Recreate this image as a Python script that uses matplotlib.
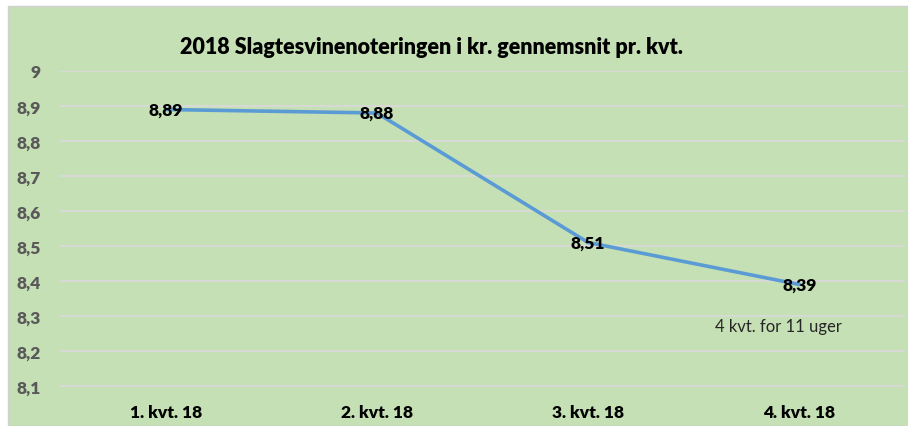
import matplotlib
matplotlib.use("Agg")
import matplotlib.pyplot as plt
from matplotlib.patches import Rectangle

# data
quarters = ["1. kvt. 18", "2. kvt. 18", "3. kvt. 18", "4. kvt. 18"]
prices = [8.89, 8.88, 8.51, 8.39]
y_ticks = [8.1, 8.2, 8.3, 8.4, 8.5, 8.6, 8.7, 8.8, 8.9, 9.0]
y_tick_labels = ["8,1", "8,2", "8,3", "8,4", "8,5", "8,6", "8,7", "8,8", "8,9", "9"]
note = "4 kvt. for 11 uger"
title = "2018 Slagtesvinenoteringen i kr. gennemsnit pr. kvt."

W, H = 908, 427
FONT = "Lato"
WEIGHT = "heavy"
fig = plt.figure(figsize=(W / 100, H / 100), dpi=100)
fig.patch.set_facecolor("white")

# green chart area
bg = Rectangle((8 / W, 0), 1 - 8 / W, 1 - 7 / H, transform=fig.transFigure,
               facecolor="#C5E0B4", edgecolor="#D0D0D0", linewidth=1, zorder=-5)
fig.patches.append(bg)

ax = fig.add_axes([60 / W, (H - 401) / H, (905 - 60) / W, (401 - 72) / H])
ax.patch.set_alpha(0)
for s in ax.spines.values():
    s.set_visible(False)

x = list(range(len(quarters)))
ax.plot(x, prices, color="#5B9BD5", linewidth=2.6, solid_capstyle="round", zorder=3)

for xi, v in zip(x, prices):
    ax.text(xi, v, f"{v:.2f}".replace(".", ","), ha="center", va="center",
            fontsize=12.5, fontweight=WEIGHT, family=FONT, color="black", zorder=4)

# note under the last point
ax.text(x[-1] - 0.1, 8.27, note, ha="center", va="center", fontsize=12,
        family=FONT, color="#262626")

ax.set_xlim(-0.5, 3.5)
ax.set_ylim(8.06, 9.0)
ax.set_yticks(y_ticks)
ax.set_yticklabels(y_tick_labels)
ax.set_xticks(x)
ax.set_xticklabels(quarters)
ax.yaxis.grid(True, color="#D9D9D9", linewidth=1.3)
ax.set_axisbelow(True)
ax.tick_params(axis="y", length=0, pad=14, labelsize=12.5, labelcolor="#595959")
ax.tick_params(axis="x", length=0, pad=3, labelsize=12.5, labelcolor="black")
for lab in ax.get_yticklabels() + ax.get_xticklabels():
    lab.set_fontweight(WEIGHT)
    lab.set_family(FONT)

fig.text(431 / W, (H - 47) / H, title, ha="center", va="center",
         fontsize=15.5, fontweight=WEIGHT, family=FONT, color="black")

fig.savefig("out.png", dpi=100)
